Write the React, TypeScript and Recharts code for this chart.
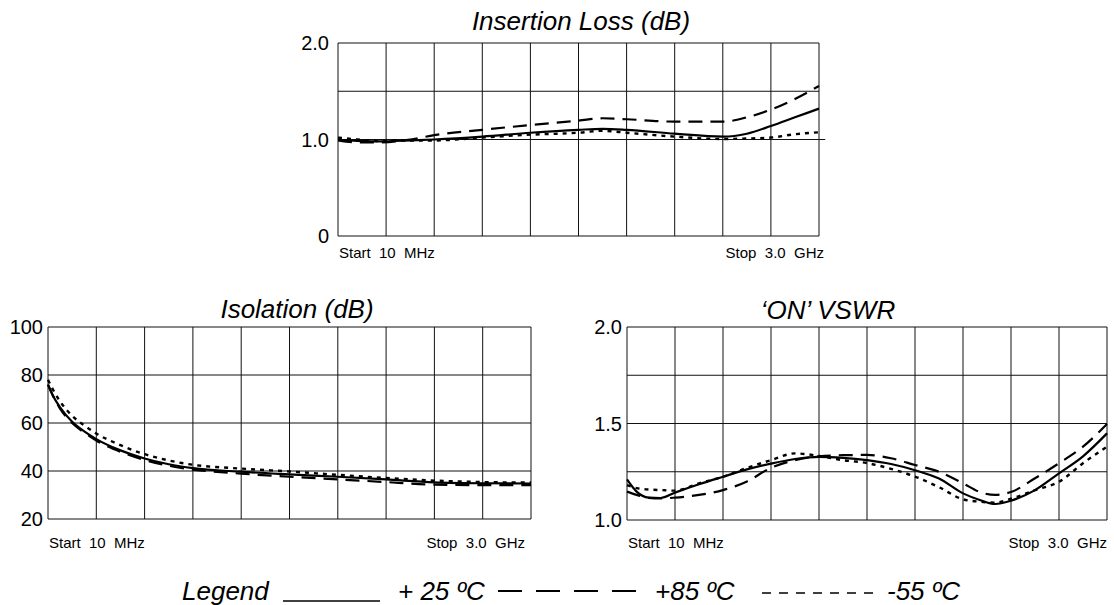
import { LineChart, Line, XAxis, YAxis, CartesianGrid, ReferenceLine } from 'recharts';

const FONT = '"Liberation Sans", Arial, Helvetica, sans-serif';

// frequency axis is 10 equal divisions from Start 10 MHz to Stop 3.0 GHz
const X_TICKS = [0, 1, 2, 3, 4, 5, 6, 7, 8, 9, 10];

// Insertion Loss (dB)
const IL_X = [0, 0.4, 0.8, 1.5, 2, 3, 4, 5, 5.5, 6, 7, 8, 8.5, 9, 9.5, 10];
const IL_P25 = [0.995, 0.985, 0.98, 0.99, 1.0, 1.03, 1.07, 1.1, 1.11, 1.1, 1.06, 1.03, 1.06, 1.14, 1.23, 1.32];
const IL_P85 = [0.99, 0.97, 0.97, 1.0, 1.045, 1.1, 1.15, 1.195, 1.22, 1.21, 1.185, 1.185, 1.23, 1.31, 1.42, 1.555];
const IL_M55 = [1.02, 1.0, 0.985, 0.99, 0.99, 1.02, 1.05, 1.07, 1.09, 1.07, 1.03, 1.005, 1.01, 1.02, 1.055, 1.075];
const IL_TICKS = [0, 1, 1.5, 2];

// Isolation (dB)
const ISO_X = [0, 0.1, 0.25, 0.5, 0.75, 1, 1.5, 2, 2.5, 3, 4, 5, 6, 7, 8, 9, 10];
const ISO_P25 = [76, 71.5, 66.5, 60.5, 56.5, 53.3, 48.6, 45.2, 42.8, 41.2, 39.7, 38.6, 37.6, 36.5, 35.3, 34.9, 34.8];
const ISO_P85 = [76, 71.5, 66, 60, 56, 52.7, 48, 44.6, 42.2, 40.6, 38.9, 37.6, 36.5, 35.4, 34.3, 34.1, 34.1];
const ISO_M55 = [78, 74, 69, 63, 59, 55.6, 50.8, 47, 44.4, 42.6, 41, 39.8, 38.4, 37.1, 36, 35.4, 35.2];
const ISO_TICKS = [20, 40, 60, 80, 100];

// 'ON' VSWR
const VS_X = [0, 0.2, 0.45, 0.7, 1, 1.5, 2, 2.5, 3, 3.5, 4, 4.5, 5, 5.5, 6, 6.5, 7, 7.35, 7.67, 8, 8.5, 9, 9.5, 10];
const VS_P25 = [1.21, 1.147, 1.116, 1.114, 1.142, 1.185, 1.224, 1.262, 1.292, 1.316, 1.327, 1.322, 1.31, 1.29, 1.258, 1.215, 1.138, 1.104, 1.083, 1.1, 1.155, 1.242, 1.33, 1.449];
const VS_P85 = [1.147, 1.13, 1.115, 1.112, 1.116, 1.13, 1.155, 1.2, 1.27, 1.31, 1.33, 1.336, 1.337, 1.32, 1.285, 1.25, 1.19, 1.145, 1.13, 1.145, 1.216, 1.294, 1.38, 1.497];
const VS_M55 = [1.181, 1.165, 1.158, 1.155, 1.152, 1.19, 1.224, 1.27, 1.31, 1.345, 1.332, 1.31, 1.295, 1.265, 1.225, 1.17, 1.107, 1.095, 1.09, 1.11, 1.155, 1.198, 1.294, 1.38];
const VS_TICKS = [1, 1.25, 1.5, 1.75, 2];

const build = (xs: number[], a: number[], b: number[], c: number[]) =>
  xs.map((x, i) => ({ x, p25: a[i], p85: b[i], m55: c[i] }));

const ilData = build(IL_X, IL_P25, IL_P85, IL_M55);
const isoData = build(ISO_X, ISO_P25, ISO_P85, ISO_M55);
const vsData = build(VS_X, VS_P25, VS_P85, VS_M55);

const SERIES = [
  { key: 'm55', dash: '4 5', width: 2.4 },
  { key: 'p85', dash: '14 8', width: 2.2 },
  { key: 'p25', dash: undefined, width: 2.2 },
];

function FreqTick(props: any) {
  const { x, y, payload, dy, stopShift } = props;
  const style = { whiteSpace: 'pre' as const };
  if (payload.value === 0) {
    return (
      <text x={x + 1} y={y + dy} fontSize={15} fontFamily={FONT} fill="#000" textAnchor="start" style={style}>
        {'Start  10  MHz'}
      </text>
    );
  }
  if (payload.value === 10) {
    return (
      <text x={x + stopShift} y={y + dy} fontSize={15} fontFamily={FONT} fill="#000" textAnchor="end" style={style}>
        {'Stop  3.0  GHz'}
      </text>
    );
  }
  return <g />;
}

interface PanelProps {
  data: Record<string, number>[];
  left: number;
  top: number;
  width: number;
  height: number;
  right: number;
  yWidth: number;
  yTicks: number[];
  yDomain: [number, number];
  yFmt: (v: number) => string;
  gap: number;
  startDy: number;
  stopShift: number;
  extendOne?: boolean;
}

function Panel(p: PanelProps) {
  return (
    <div style={{ position: 'absolute', left: p.left, top: p.top }}>
      <LineChart width={p.width} height={p.height} data={p.data} margin={{ top: 10, right: p.right, bottom: 0, left: 0 }}>
        <CartesianGrid stroke="#111" strokeWidth={1} />
        <XAxis
          dataKey="x"
          type="number"
          domain={[0, 10]}
          ticks={X_TICKS}
          interval={0}
          axisLine={false}
          tickLine={false}
          tickSize={0}
          height={40}
          tick={(t: any) => <FreqTick {...t} dy={p.startDy} stopShift={p.stopShift} />}
        />
        <YAxis
          type="number"
          domain={p.yDomain}
          ticks={p.yTicks}
          interval={0}
          axisLine={false}
          tickLine={false}
          tickSize={0}
          tickMargin={p.gap}
          width={p.yWidth}
          tick={{ fontSize: 20, fill: '#000', fontFamily: FONT }}
          tickFormatter={p.yFmt}
        />
        {p.extendOne && (
          <ReferenceLine
            segment={[{ x: 0, y: 1 }, { x: 10.13, y: 1 }]}
            ifOverflow="visible"
            stroke="#111"
            strokeWidth={1}
          />
        )}
        {SERIES.map((s) => (
          <Line
            key={s.key}
            dataKey={s.key}
            type="monotone"
            stroke="#000"
            strokeWidth={s.width}
            strokeDasharray={s.dash}
            dot={false}
            activeDot={false}
            isAnimationActive={false}
          />
        ))}
      </LineChart>
    </div>
  );
}

const titleStyle = { fontSize: 26, fontStyle: 'italic', fontFamily: FONT, fill: '#000' } as const;

export default function App() {
  return (
    <div style={{ position: 'absolute', left: 0, top: 0, width: 1114, height: 605, background: '#fff', fontFamily: FONT }}>
      <Panel
        data={ilData}
        left={280}
        top={33}
        width={549}
        height={243}
        right={10}
        yWidth={58}
        yTicks={IL_TICKS}
        yDomain={[0, 2]}
        yFmt={(v) => (v === 0 ? '0' : v === 1.5 ? '' : v.toFixed(1))}
        gap={9}
        startDy={20}
        stopShift={5}
        extendOne
      />
      <Panel
        data={isoData}
        left={0}
        top={317}
        width={541}
        height={242}
        right={10}
        yWidth={48}
        yTicks={ISO_TICKS}
        yDomain={[20, 100]}
        yFmt={(v) => String(v)}
        gap={5}
        startDy={27}
        stopShift={-6}
      />
      <Panel
        data={vsData}
        left={567}
        top={317}
        width={547}
        height={243}
        right={7}
        yWidth={60}
        yTicks={VS_TICKS}
        yDomain={[1, 2]}
        yFmt={(v) => (v === 1.25 || v === 1.75 ? '' : v.toFixed(1))}
        gap={5}
        startDy={26}
        stopShift={0}
      />
      <svg width={1114} height={605} style={{ position: 'absolute', left: 0, top: 0, pointerEvents: 'none' }}>
        <text x={581} y={30} textAnchor="middle" {...titleStyle}>Insertion Loss (dB)</text>
        <text x={297} y={318} textAnchor="middle" {...titleStyle}>Isolation (dB)</text>
        <text x={828} y={319} textAnchor="middle" {...titleStyle}>{'\u2018ON\u2019 VSWR'}</text>

        <text x={182} y={600} {...titleStyle}>Legend</text>
        <line x1={283} x2={380} y1={601} y2={601} stroke="#000" strokeWidth={1.6} />
        <text x={398} y={600} {...titleStyle}>+ 25 ºC</text>
        <line x1={498} x2={637} y1={591} y2={591} stroke="#000" strokeWidth={2} strokeDasharray="24 14" />
        <text x={655} y={600} {...titleStyle}>+85 ºC</text>
        <line x1={762} x2={874} y1={593} y2={593} stroke="#000" strokeWidth={1.6} strokeDasharray="9 8" />
        <text x={887} y={600} {...titleStyle}>-55 ºC</text>
      </svg>
    </div>
  );
}
